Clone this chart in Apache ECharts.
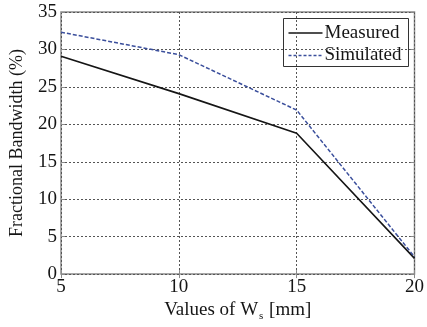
<!DOCTYPE html>
<html>
<head>
<meta charset="utf-8">
<script src="https://cdn.jsdelivr.net/npm/echarts@6/dist/echarts.min.js"></script>
<style>
  html, body { margin: 0; padding: 0; background: #fff; }
  #chart { width: 427px; height: 327px; }
</style>
</head>
<body>
<div id="chart"></div>
<script>
// Slot width W_s (mm) and measured / simulated fractional bandwidth (%)
const widths = [5, 10, 15, 20];
const measured = [29.1, 24.1, 18.8, 2.1];
const simulated = [32.3, 29.3, 21.9, 2.3];
const xTicks = [5, 10, 15, 20];
const yTicks = [0, 5, 10, 15, 20, 25, 30, 35];
const seriesNames = ['Measured', 'Simulated'];

const font = '"Liberation Serif", "Times New Roman", serif';
const frame = '#8a8a8a';
const ink = '#151515';
const blue = '#3b4f9c';

const pairs = (ys) => widths.map((x, i) => [x, ys[i]]);

const tickStyle = { show: true, inside: true, length: 4, lineStyle: { color: frame } };
const gridDots = { show: true, lineStyle: { type: [2, 2], color: '#555', width: 1 } };

// Boxed legend drawn as a graphic group: solid and dashed line samples with names
const legendGroup = {
  type: 'group', left: 283, top: 18,
  children: [
    { type: 'rect', shape: { x: 0, y: 0, width: 125, height: 48 },
      style: { fill: '#fff', stroke: '#333', lineWidth: 1 } },
    { type: 'line', shape: { x1: 5, y1: 14.5, x2: 39, y2: 14.5 },
      style: { stroke: ink, lineWidth: 1.6 } },
    { type: 'line', shape: { x1: 5, y1: 37, x2: 39, y2: 37 },
      style: { stroke: blue, lineWidth: 1.5, lineDash: [3, 2] } },
    { type: 'text', x: 41, y: 14.5,
      style: { text: seriesNames[0], font: '19px ' + font, fill: ink, verticalAlign: 'middle' } },
    { type: 'text', x: 41, y: 37,
      style: { text: seriesNames[1], font: '19px ' + font, fill: ink, verticalAlign: 'middle' } }
  ]
};

const chart = echarts.init(document.getElementById('chart'));
chart.setOption({
  animation: false,
  backgroundColor: '#fff',
  grid: {
    left: 61, right: 12, top: 12, bottom: 49,
    show: true, borderColor: frame, borderWidth: 1.5, backgroundColor: '#fff'
  },
  xAxis: [{
    type: 'value', min: xTicks[0], max: xTicks[xTicks.length - 1], interval: 5,
    name: '{t|Values of W}{s|s}{t| [mm]}',
    nameLocation: 'middle', nameGap: 23,
    nameTextStyle: {
      rich: {
        t: { fontFamily: font, fontSize: 19, color: ink },
        s: { fontFamily: font, fontSize: 11, color: ink, verticalAlign: 'bottom', padding: [12, 1, 0, 1] }
      }
    },
    axisLine: { show: false },
    axisTick: tickStyle,
    axisLabel: { fontFamily: font, fontSize: 19, color: ink, margin: 3 },
    splitLine: gridDots
  }, {
    type: 'value', position: 'top', min: xTicks[0], max: xTicks[xTicks.length - 1], interval: 5,
    axisLine: { show: false }, axisLabel: { show: false },
    axisTick: tickStyle, splitLine: { show: false }
  }],
  yAxis: [{
    type: 'value', min: yTicks[0], max: yTicks[yTicks.length - 1], interval: 5,
    name: 'Fractional Bandwidth (%)',
    nameLocation: 'middle', nameGap: 35, nameRotate: 90,
    nameTextStyle: { fontFamily: font, fontSize: 18, color: ink },
    axisLine: { show: false },
    axisTick: tickStyle,
    axisLabel: { fontFamily: font, fontSize: 19, color: ink, margin: 4 },
    splitLine: gridDots
  }, {
    type: 'value', position: 'right', min: yTicks[0], max: yTicks[yTicks.length - 1], interval: 5,
    axisLine: { show: false }, axisLabel: { show: false },
    axisTick: tickStyle, splitLine: { show: false }
  }],
  series: [{
    name: seriesNames[0], type: 'line', data: pairs(measured),
    symbol: 'none', color: ink,
    lineStyle: { color: ink, width: 1.6, type: 'solid' }
  }, {
    name: seriesNames[1], type: 'line', data: pairs(simulated),
    symbol: 'none', color: blue,
    lineStyle: { color: blue, width: 1.5, type: [4, 2] }
  }],
  graphic: [legendGroup]
});
</script>
</body>
</html>
